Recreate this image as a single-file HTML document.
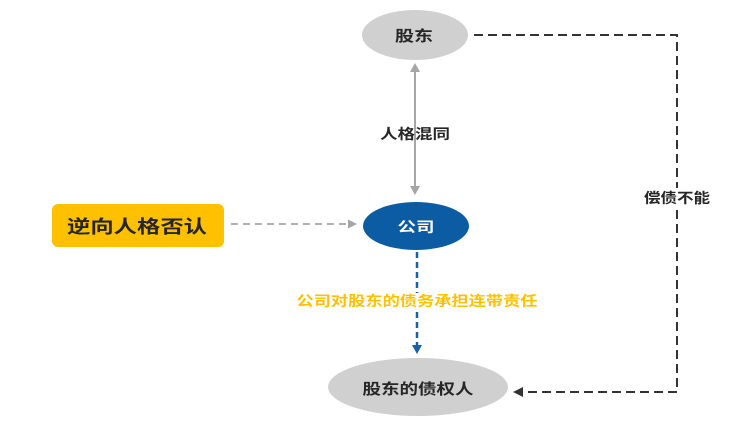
<!DOCTYPE html>
<html>
<head>
<meta charset="utf-8">
<style>
html,body{margin:0;padding:0;background:#fff;}
svg{display:block;}
text{font-family:"Liberation Sans","Noto Sans CJK SC",sans-serif;font-weight:bold;}
</style>
</head>
<body>
<svg width="745" height="429" viewBox="0 0 745 429" xmlns="http://www.w3.org/2000/svg">
  <defs>
    <marker id="ag" markerWidth="8" markerHeight="8" refX="7" refY="4" orient="auto" markerUnits="userSpaceOnUse">
      <path d="M0,0 L8,4 L0,8 z" fill="#A6A6A6"/>
    </marker>
  </defs>

  <!-- 股东 -->
  <ellipse cx="415" cy="35" rx="53" ry="25" fill="#D0D0D0"/>
  <text x="414" y="41" font-size="15" fill="#262626" text-anchor="middle" textLength="38" lengthAdjust="spacingAndGlyphs">股东</text>

  <!-- double arrow 人格混同 -->
  <line x1="415" y1="70" x2="415" y2="188" stroke="#A6A6A6" stroke-width="2"/>
  <path d="M410,72 L415,63 L420,72 z" fill="#A6A6A6"/>
  <path d="M410,186 L415,195 L420,186 z" fill="#A6A6A6"/>
  <text x="415" y="139" font-size="14" fill="#262626" text-anchor="middle" textLength="70" lengthAdjust="spacingAndGlyphs">人格混同</text>

  <!-- 公司 -->
  <ellipse cx="416" cy="226" rx="53" ry="24" fill="#0B5CA3"/>
  <text x="416" y="232" font-size="14" fill="#ffffff" text-anchor="middle" textLength="37" lengthAdjust="spacingAndGlyphs">公司</text>

  <!-- 逆向人格否认 box -->
  <rect x="52" y="204" width="172" height="43" rx="6" ry="6" fill="#FFC000"/>
  <text x="137" y="233" font-size="18" fill="#262626" text-anchor="middle" textLength="140" lengthAdjust="spacingAndGlyphs">逆向人格否认</text>

  <!-- gray dashed arrow -->
  <line x1="231" y1="224" x2="350" y2="224" stroke="#A6A6A6" stroke-width="1.8" stroke-dasharray="7,5"/>
  <path d="M348,219.5 L357,224 L348,228.5 z" fill="#A6A6A6"/>

  <!-- blue dashed vertical -->
  <line x1="417" y1="252" x2="417" y2="345" stroke="#1A62A8" stroke-width="2.5" stroke-dasharray="6,4"/>
  <path d="M412,345 L417,354 L422,345 z" fill="#1A62A8"/>
  <rect x="295" y="293" width="246" height="16" fill="#ffffff"/>
  <text x="417" y="306" font-size="14" fill="#FFC000" text-anchor="middle" textLength="241" lengthAdjust="spacingAndGlyphs">公司对股东的债务承担连带责任</text>

  <!-- 股东的债权人 -->
  <ellipse cx="418" cy="387" rx="90" ry="29" fill="#D0D0D0"/>
  <text x="418" y="394" font-size="15" fill="#262626" text-anchor="middle" textLength="111" lengthAdjust="spacingAndGlyphs">股东的债权人</text>

  <!-- right dashed connector -->
  <path d="M474,35 L677,35 L677,392 L522,392" fill="none" stroke="#333333" stroke-width="2" stroke-dasharray="9,5"/>
  <path d="M523,387 L513,392 L523,397 z" fill="#333333"/>
  <rect x="641" y="188" width="72" height="18" fill="#ffffff"/>
  <text x="677" y="203" font-size="14" fill="#262626" text-anchor="middle" textLength="66" lengthAdjust="spacingAndGlyphs">偿债不能</text>
</svg>
</body>
</html>
